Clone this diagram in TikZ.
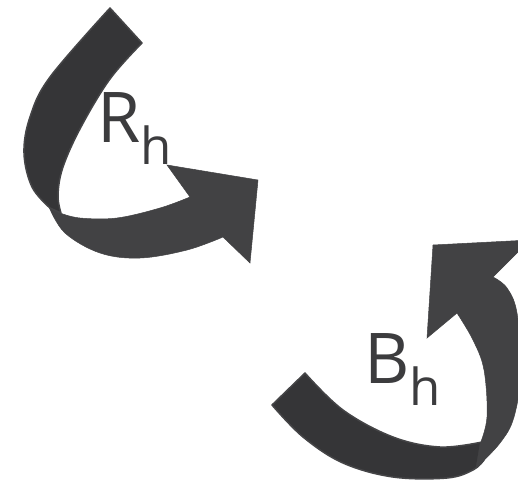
\documentclass[tikz,border=0pt]{standalone}
\usepackage{fontspec}
\setmainfont{Open Sans}
\definecolor{banddark}{HTML}{353537}
\definecolor{bandedge}{HTML}{454547}
\definecolor{bandlight}{HTML}{424244}
\definecolor{labelgray}{HTML}{3C3C3E}
\tikzset{
  darkband/.style={fill=banddark, draw=bandedge, line width=1.5pt, line join=round},
  lightband/.style={fill=bandlight, draw=bandlight, line width=0.5pt, line join=miter},
  lbl/.style={inner sep=0pt, anchor=base west, text=labelgray, font=\fontsize{70}{70}\selectfont}
}
\newcommand{\subh}{\raisebox{-22.5pt}{\fontsize{51}{51}\selectfont h}}
\begin{document}
\begin{tikzpicture}[x=1pt,y=-1pt]
\useasboundingbox (0,0) rectangle (518,485);
\clip (0,0) rectangle (518,485);
\fill[white] (0,0) rectangle (518,485);
% ---- arrow R (upper left) ----
\path[lightband] plot[smooth, tension=0.6] coordinates {(60,213) (80,218) (117,218) (160,208) (190,197)}
  -- (167,165) -- (258,180) -- (250,263) -- (223,237)
  -- plot[smooth, tension=0.6] coordinates {(223,237) (187,250) (140,258) (100,253) (65,233) (49,207)} -- cycle;
\path[darkband] plot[smooth, tension=0.6] coordinates {(142,43) (110,79) (81,127) (63,167) (58,195) (61,213)}
  -- (50,208) -- plot[smooth, tension=0.6] coordinates {(50,208) (32,187) (24,153) (30,117) (50,77) (110,8)} -- cycle;
% ---- arrow B (lower right) ----
\path[darkband] (305,373) -- (272,405)
  -- plot[smooth, tension=0.6] coordinates {(272,405) (303,437) (343,463) (393,477) (447,478) (473,470) (484,460)}
  -- plot[smooth, tension=0.6] coordinates {(482,442) (440,447) (393,437) (343,410) (305,373)} -- cycle;
\path[lightband] plot[smooth, tension=0.6] coordinates {(480,444) (487,417) (484,370) (473,340) (457,313)}
  -- (427,338) -- (433,245) -- (530,240) -- (493,277)
  -- plot[smooth, tension=0.6] coordinates {(493,277) (507,288) (517,313) (521,370) (514,417) (500,443) (476,468)} -- cycle;
% ---- labels ----
\node[lbl] (rh) at (97,142) {R\subh};
\node[lbl] (bh) at (364,383) {B\subh};
\end{tikzpicture}
\end{document}
